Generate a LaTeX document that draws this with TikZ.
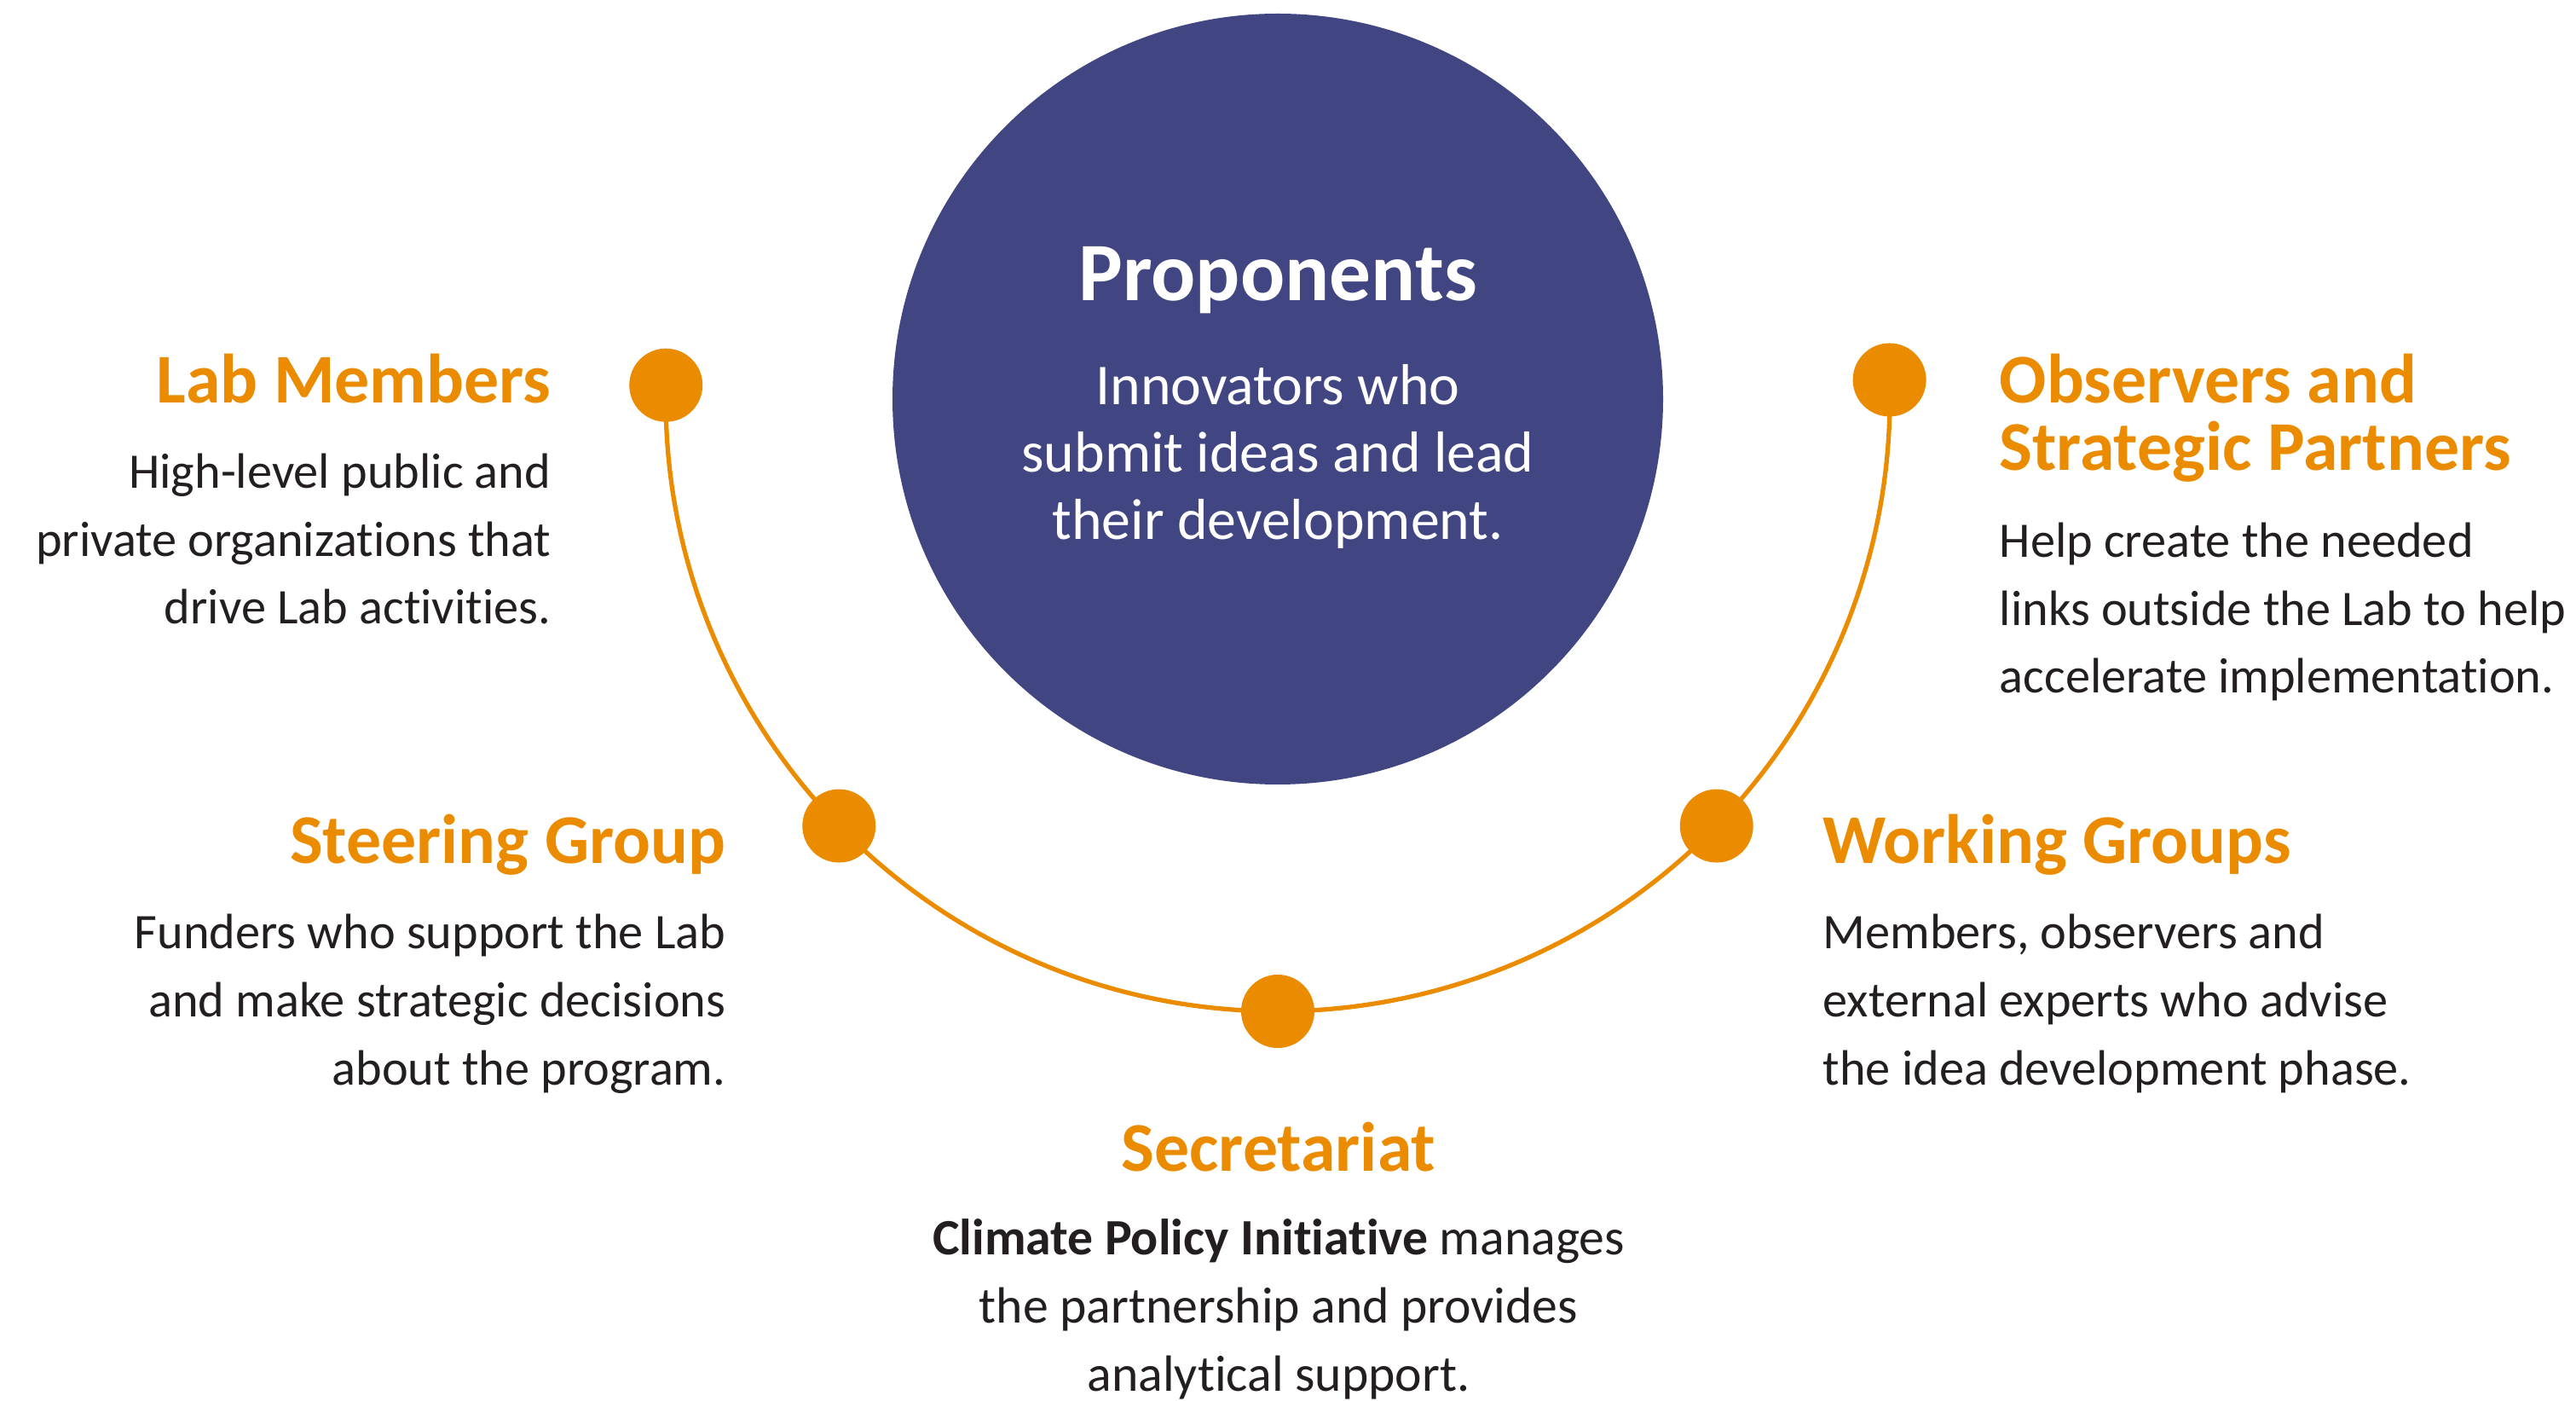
\documentclass[tikz,border=0pt]{standalone}
\usepackage{fontspec}
\setmainfont{Carlito}[Ligatures={NoCommon}]
\definecolor{orangec}{HTML}{EA8B00}
\definecolor{navyc}{HTML}{414581}
\definecolor{textc}{HTML}{231F20}
\begin{document}
\begin{tikzpicture}[x=1cm,y=1cm,
  head/.style={text=orangec, font=\bfseries\fontsize{23.3}{22.5}\selectfont, inner sep=0pt},
  body/.style={text=textc, font=\fontsize{16.6}{22.76}\selectfont, inner sep=0pt},
  dotnode/.style={circle, fill=orangec, minimum size=0.86cm, inner sep=0pt},
  arcline/.style={draw=orangec, line width=1.5pt},
  bigcircle/.style={circle, fill=navyc, minimum size=9.04cm, inner sep=0pt}]
\useasboundingbox (0,0) rectangle (30.22,16.42);
\coordinate (c) at (14.99,11.74);
% central circle
\node[bigcircle] (prop) at (c) {};
\node[text=white, font=\bfseries\fontsize{27.7}{30}\selectfont, inner sep=0pt, anchor=base] (propt) at (14.99,12.89) {Proponents};
\node[text=white, font=\fontsize{19.3}{22.6}\selectfont, inner sep=0pt, align=center, anchor=base] (propb) at (14.99,10.09) {Innovators who\\submit ideas and lead\\their development.};
% arc
\draw[arcline] ([shift={(178.7:7.18)}]c) arc[start angle=178.7, end angle=361.8, radius=7.18];
% dots
\node[dotnode] (lab) at ([shift={(178.7:7.18)}]c) {};
\node[dotnode] (steer) at ([shift={(224.2:7.18)}]c) {};
\node[dotnode] (sec) at ([shift={(270:7.18)}]c) {};
\node[dotnode] (work) at ([shift={(315.8:7.18)}]c) {};
\node[dotnode] (obs) at ([shift={(361.8:7.18)}]c) {};
% Lab Members
\node[head, anchor=base east] (labh) at (6.47,11.69) {Lab Members};
\node[body, align=right, anchor=base east] (labb) at (6.47,9.10) {High-level public and\\private organizations that\\drive Lab activities.};
% Steering Group
\node[head, anchor=base east] (steerh) at (8.52,6.29) {Steering Group};
\node[body, align=right, anchor=base east] (steerb) at (8.52,3.70) {Funders who support the Lab\\and make strategic decisions\\about the program.};
% Observers
\node[head, align=left, anchor=base west] (obsh) at (23.45,10.90) {Observers and\\Strategic Partners};
\node[body, align=left, anchor=base west] (obsb) at (23.45,8.29) {Help create the needed\\links outside the Lab to help\\accelerate implementation.};
% Working Groups
\node[head, anchor=base west] (workh) at (21.38,6.29) {Working Groups};
\node[body, align=left, anchor=base west] (workb) at (21.38,3.70) {Members, observers and\\external experts who advise\\the idea development phase.};
% Secretariat
\node[head, anchor=base] (sech) at (15.00,2.69) {Secretariat};
\node[body, font=\fontsize{17}{22.76}\selectfont, align=center, anchor=base] (secb) at (15.00,0.11) {\textbf{Climate Policy Initiative} manages\\the partnership and provides\\analytical support.};
\end{tikzpicture}
\end{document}
